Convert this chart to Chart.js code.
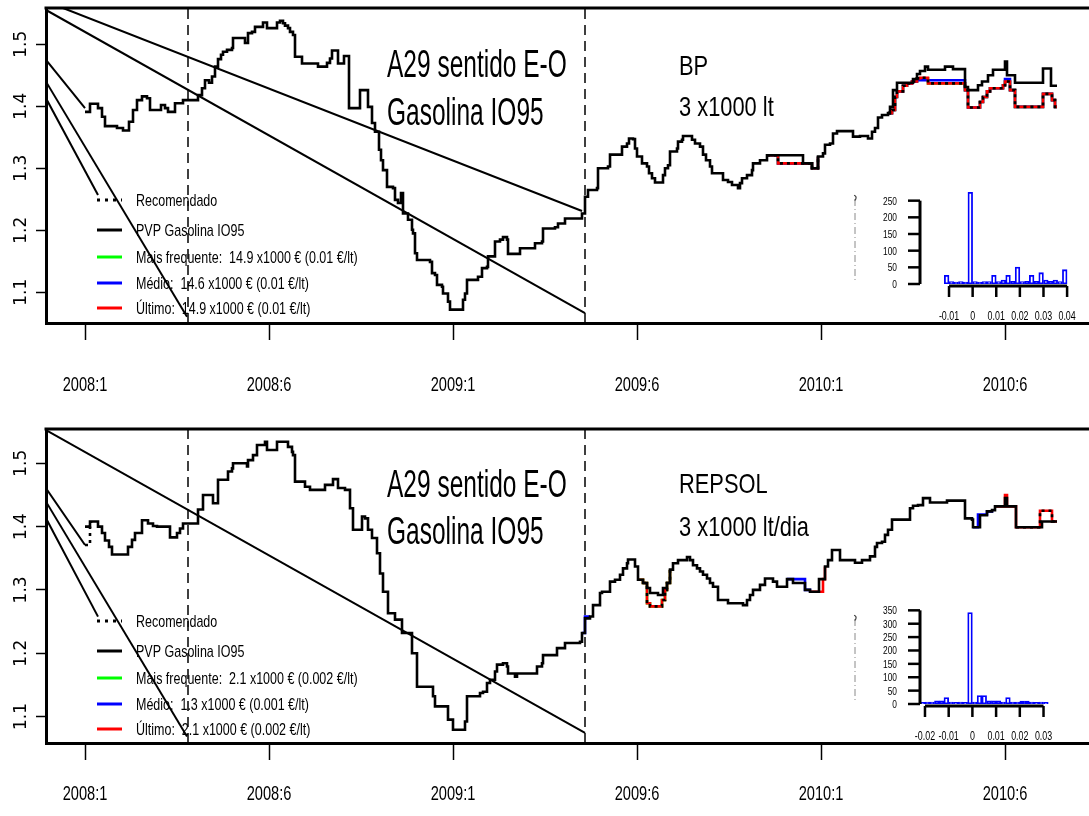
<!DOCTYPE html>
<html>
<head>
<meta charset="utf-8">
<script src="https://cdn.jsdelivr.net/npm/chart.js@4.4.1/dist/chart.umd.min.js"></script>
<style>
  html, body { margin: 0; padding: 0; background: #fff; overflow: hidden; }
  #wrap { position: relative; width: 1089px; height: 816px; }
  canvas { position: absolute; display: block; }
</style>
</head>
<body>
<div id="wrap">
  <canvas id="panelBP" width="1089" height="408" style="left:0;top:0"></canvas>
  <canvas id="panelRepsol" width="1089" height="408" style="left:0;top:408px"></canvas>
  <canvas id="histBP" width="230" height="150" style="left:850px;top:180px"></canvas>
  <canvas id="histRepsol" width="230" height="150" style="left:850px;top:600px"></canvas>
</div>
<script>
// ---- time axis: days counted from the first observation (2008:1) ----
const xTickDays   = [0, 184, 368, 552, 736, 920];
const xTickLabels = ['2008:1', '2008:6', '2009:1', '2009:6', '2010:1', '2010:6'];
const yTicks      = [1.1, 1.2, 1.3, 1.4, 1.5];
const dividerDays = [103, 500];

const titleLines     = ['A29 sentido E-O', 'Gasolina IO95'];
const stationBP      = ['BP', '3 x1000 lt'];
const stationRepsol  = ['REPSOL', '3 x1000 lt/dia'];
const legendBP = ['Recomendado', 'PVP Gasolina IO95',
  'Mais frequente:  14.9 x1000 € (0.01 €/lt)',
  'Médio:  14.6 x1000 € (0.01 €/lt)',
  'Último:  14.9 x1000 € (0.01 €/lt)'];
const legendRepsol = ['Recomendado', 'PVP Gasolina IO95',
  'Mais frequente:  2.1 x1000 € (0.002 €/lt)',
  'Médio:  1.3 x1000 € (0.001 €/lt)',
  'Último:  2.1 x1000 € (0.002 €/lt)'];

// ---- BP: pump price (€/lt), [day, price] at each price change ----
const pvpBP = [[0,1.391],[5,1.404],[13,1.397],[17,1.383],[20,1.368],[32,1.365],[38,1.361],[44,1.375],[48,1.394],[52,1.410],
  [57,1.416],[62,1.413],[65,1.394],[76,1.402],[80,1.397],[83,1.391],[90,1.405],[98,1.410],[113,1.418],[117,1.429],
  [120,1.442],[124,1.438],[127,1.448],[130,1.464],[133,1.476],[136,1.483],[138,1.488],[142,1.491],[147,1.494],[148,1.510],
  [160,1.502],[163,1.518],[167,1.520],[170,1.528],[178,1.535],[182,1.526],[192,1.535],[195,1.538],[198,1.534],[200,1.530],
  [203,1.526],[205,1.520],[208,1.515],[210,1.480],[217,1.469],[233,1.464],[242,1.470],[245,1.477],[247,1.490],[253,1.469],
  [259,1.481],[264,1.397],[275,1.426],[283,1.399],[287,1.373],[290,1.359],[294,1.330],[296,1.313],[298,1.297],[302,1.270],
  [308,1.268],[310,1.249],[313,1.244],[316,1.260],[318,1.227],[323,1.217],[327,1.201],[328,1.195],[330,1.163],[332,1.152],
  [345,1.149],[347,1.131],[350,1.128],[352,1.112],[357,1.109],[358,1.098],[363,1.085],[365,1.072],[378,1.088],[380,1.098],
  [382,1.120],[393,1.125],[397,1.139],[402,1.141],[403,1.158],[410,1.182],[415,1.185],[418,1.189],[422,1.185],[423,1.162],
  [435,1.171],[450,1.179],[457,1.182],[458,1.203],[470,1.205],[473,1.211],[480,1.219],[497,1.227],[500,1.254],[503,1.265],
  [512,1.268],[513,1.300],[523,1.303],[525,1.322],[537,1.335],[542,1.340],[544,1.348],[548,1.347],[550,1.332],[552,1.319],
  [557,1.308],[562,1.303],[564,1.292],[567,1.284],[570,1.277],[578,1.289],[580,1.300],[583,1.305],[585,1.327],[592,1.332],
  [593,1.343],[597,1.346],[598,1.352],[607,1.346],[610,1.340],[615,1.335],[618,1.322],[621,1.313],[625,1.303],[627,1.292],
  [638,1.281],[643,1.278],[647,1.273],[653,1.268],[655,1.276],[657,1.284],[662,1.289],[667,1.297],[668,1.308],[675,1.313],
  [682,1.321],[718,1.308],[727,1.300],[733,1.319],[738,1.324],[740,1.338],[745,1.340],[748,1.356],[752,1.360],[768,1.351],
  [775,1.352],[783,1.348],[787,1.359],[790,1.365],[793,1.382],[797,1.386],[803,1.389],[805,1.399],[808,1.426],[812,1.438],
  [828,1.444],[832,1.452],[835,1.457],[840,1.464],[843,1.459],[860,1.464],[868,1.460],[880,1.431],[883,1.426],[893,1.434],
  [897,1.440],[903,1.450],[908,1.459],[920,1.472],[922,1.450],[930,1.438],[958,1.461],[966,1.433],[972,1.433]];

// recommended price where it departs from the pump price (Último follows it)
const recBP = [[682,1.321],[693,1.308],[727,1.300],[733,1.319],[760,null],
  [803,1.389],[807,1.394],[810,1.415],[812,1.424],[818,1.433],[822,1.437],[827,1.440],[832,1.445],[835,1.446],[843,1.437],
  [880,1.426],[883,1.398],[895,1.407],[898,1.415],[902,1.424],[905,1.429],[918,1.434],[920,1.440],[925,1.426],[930,1.399],
  [958,1.420],[967,1.410],[970,1.399],[972,1.399]];
const lastBP = [[682,1.321],[693,1.308],[727,1.300],[733,1.319],[760,null],
  [803,1.389],[807,1.394],[810,1.415],[812,1.424],[818,1.433],[822,1.437],[827,1.440],[832,1.445],[835,1.446],[843,1.437],
  [880,1.426],[883,1.398],[895,1.407],[898,1.415],[902,1.424],[905,1.429],[918,1.434],[920,1.440],[925,1.426],[930,1.399],
  [958,1.420],[967,1.410],[970,1.399],[972,1.399]];
const meanBP = [[682,1.321],[693,1.308],[727,1.300],[733,1.319],[760,null],
  [803,1.389],[807,1.394],[810,1.415],[812,1.424],[818,1.433],[822,1.437],[827,1.440],[832,1.442],
  [880,1.426],[883,1.398],[895,1.407],[898,1.415],[902,1.424],[905,1.429],[918,1.434],[920,1.444],[925,1.426],[930,1.399],
  [958,1.420],[967,1.410],[970,1.399],[972,1.399]];
const freqBP = [[682,1.321],[693,1.308],[727,1.300],[733,1.319],[760,null],
  [803,1.389],[807,1.394],[810,1.415],[812,1.424],[818,1.433],[822,1.437],[827,1.440],[832,1.445],[843,1.437],
  [880,1.426],[883,1.398],[895,1.407],[898,1.415],[902,1.424],[905,1.429],[918,1.434],[920,1.440],[925,1.426],[930,1.399],
  [958,1.420],[967,1.410],[970,1.399],[972,1.399]];

// straight guide segments, [day, price] end points
const guidesBP = [
  [[-22,1.5585],[497,1.2311]],
  [[-39,1.5553],[500,1.0666]],
  [[-39,1.4747],[0,1.397]],
  [[-39,1.4397],[102,1.0606]],
  [[-39,1.4129],[13,1.2569]]];

// ---- REPSOL ----
const pvpRepsol = [[0,1.400],[5,1.408],[13,1.400],[17,1.390],[20,1.378],[24,1.368],[27,1.356],[43,1.368],[47,1.379],[50,1.390],
  [57,1.410],[63,1.405],[68,1.401],[72,1.400],[85,1.383],[92,1.390],[95,1.397],[98,1.405],[113,1.427],[118,1.450],
  [128,1.437],[133,1.474],[143,1.487],[147,1.492],[148,1.500],[162,1.495],[163,1.505],[168,1.513],[172,1.529],[180,1.534],
  [182,1.521],[192,1.534],[203,1.526],[207,1.518],[208,1.513],[210,1.471],[220,1.463],[225,1.458],[240,1.466],[248,1.475],
  [253,1.461],[260,1.458],[265,1.429],[268,1.395],[277,1.416],[280,1.413],[283,1.395],[287,1.382],[292,1.358],[295,1.326],
  [298,1.297],[303,1.263],[310,1.253],[317,1.232],[327,1.200],[332,1.147],[348,1.132],[350,1.116],[363,1.095],[368,1.079],
  [380,1.092],[382,1.132],[395,1.137],[398,1.139],[402,1.153],[405,1.158],[410,1.171],[412,1.182],[418,1.184],[422,1.179],
  [423,1.168],[430,1.163],[432,1.168],[452,1.179],[457,1.184],[458,1.197],[472,1.208],[480,1.216],[495,1.218],[497,1.232],
  [500,1.255],[505,1.258],[508,1.276],[515,1.295],[517,1.297],[525,1.313],[530,1.316],[535,1.324],[538,1.334],[542,1.342],
  [543,1.348],[550,1.337],[553,1.316],[558,1.311],[562,1.303],[565,1.295],[573,1.292],[578,1.303],[582,1.311],[585,1.332],
  [588,1.342],[593,1.347],[602,1.352],[605,1.347],[608,1.339],[612,1.334],[615,1.329],[618,1.324],[622,1.318],[625,1.311],
  [628,1.305],[633,1.284],[643,1.279],[658,1.276],[662,1.284],[665,1.292],[668,1.300],[675,1.308],[680,1.318],[688,1.313],
  [692,1.305],[702,1.317],[708,1.311],[720,1.300],[725,1.297],[734,1.317],[740,1.337],[743,1.347],[747,1.363],[755,1.347],
  [770,1.343],[777,1.347],[785,1.353],[790,1.368],[792,1.374],[797,1.376],[800,1.387],[803,1.395],[807,1.411],[825,1.429],
  [828,1.433],[833,1.434],[838,1.445],[845,1.438],[862,1.441],[880,1.413],[887,1.411],[888,1.399],[895,1.418],[902,1.424],
  [907,1.426],[910,1.432],[920,1.445],[922,1.432],[931,1.399],[957,1.408],[972,1.408]];

const recRepsol = [[0,1.371],[5,1.400],[6,1.408],[300,null],
  [558,1.311],[562,1.279],[565,1.274],[577,1.284],[580,1.300],[582,1.311],[585,1.332],[800,null],
  [931,1.399],[955,1.425],[967,1.408],[972,1.408]];
const lastRepsol = [[553,1.316],[558,1.311],[562,1.279],[565,1.274],[577,1.284],[580,1.300],[582,1.311],[585,1.332],[650,null],
  [725,1.297],[738,1.317],[740,1.337],[800,null],
  [910,1.432],[920,1.450],[922,1.432],[931,1.399],[955,1.425],[967,1.408],[972,1.408]];
const meanRepsol = [[497,1.232],[500,1.258],[505,1.258],[600,null],
  [702,1.317],[720,1.300],[725,1.297],[800,null],
  [888,1.399],[893,1.419],[902,1.424],[907,1.426]];
const freqRepsol = [[553,1.316],[558,1.311],[562,1.279],[565,1.274],[577,1.284],[580,1.300],[582,1.311],[585,1.332]];

const guidesRepsol = [
  [[-39,1.5526],[500,1.0741]],
  [[-39,1.4605],[0,1.371]],
  [[-39,1.4394],[102,1.0683]],
  [[-39,1.4132],[13,1.2578]]];

// ---- histograms of daily margins (€/lt), lower bin edges and counts ----
const histBinWidth = 0.002;
const histEdgesBP = [-0.012,-0.010,-0.008,-0.006,-0.004,-0.002,0.000,0.002,0.004,0.006,0.008,0.010,0.012,
  0.014,0.016,0.018,0.020,0.022,0.024,0.026,0.028,0.030,0.032,0.034,0.036,0.038];
const histCountsBP = [26,7,6,7,6,275,7,6,7,7,26,7,12,26,8,51,7,8,26,8,34,12,8,12,7,43];
const histXTicksBP = [-0.01, 0, 0.01, 0.02, 0.03, 0.04];
const histYTicksBP = [0, 50, 100, 150, 200, 250];

const histEdgesRepsol = [-0.022,-0.020,-0.018,-0.016,-0.014,-0.012,-0.010,-0.008,-0.006,-0.004,-0.002,0.000,0.002,
  0.004,0.006,0.008,0.010,0.012,0.014,0.016,0.018,0.020,0.022,0.024,0.026,0.028,0.030];
const histCountsRepsol = [6,7,7,12,12,24,7,6,7,6,342,7,32,32,12,12,12,7,24,7,7,11,11,7,6,7,6];
const histXTicksRepsol = [-0.02, -0.01, 0, 0.01, 0.02, 0.03];
const histYTicksRepsol = [0, 50, 100, 150, 200, 250, 300, 350];

// ---------------------------------------------------------------
const SANS = '"Liberation Sans", Arial, Helvetica, sans-serif';

function condensedText(ctx, str, x, y, size, squeeze, align) {
  ctx.save();
  ctx.font = size + 'px ' + SANS;
  ctx.textBaseline = 'alphabetic';
  ctx.textAlign = 'left';
  const w = ctx.measureText(str).width * squeeze;
  const x0 = align === 'center' ? x - w / 2 : (align === 'right' ? x - w : x);
  ctx.translate(x0, y);
  ctx.scale(squeeze, 1);
  ctx.fillStyle = '#000';
  ctx.fillText(str, 0, 0);
  ctx.restore();
}

function stepLine(data, color, width, dash) {
  return { data, borderColor: color, borderWidth: width, borderDash: dash || [],
           stepped: true, pointRadius: 0, fill: false, spanGaps: false };
}

function buildPanel(id, p) {
  const datasets = [
    stepLine(p.pvp, '#000000', 2.6),
    stepLine(p.rec, '#000000', 2.6, [3, 4]),
    stepLine(p.last, '#ff0000', 2.6),
    stepLine(p.mean, '#0000ff', 2.6),
    stepLine(p.freq, '#00ff00', 2.6)
  ];
  p.guides.forEach(g => datasets.push({ data: g, borderColor: '#000', borderWidth: 2, pointRadius: 0, fill: false }));
  dividerDays.forEach(d => datasets.push({ data: [[d, p.yMin], [d, p.yMax]], borderColor: '#000',
    borderWidth: 1.5, borderDash: [10, 6], pointRadius: 0, fill: false }));

  const decor = {
    id: 'decor' + id,
    afterDatasetsDraw(chart) {
      const ctx = chart.ctx, a = chart.chartArea;
      // top frame line
      ctx.save();
      ctx.strokeStyle = '#000'; ctx.lineWidth = 3;
      ctx.beginPath(); ctx.moveTo(a.left - 1.5, a.top); ctx.lineTo(a.right, a.top); ctx.stroke();
      ctx.restore();
      // headline texts
      titleLines.forEach((t, i) => condensedText(ctx, t, 387, a.top + p.titleY[i], 38, 0.645, 'left'));
      p.station.forEach((t, i) => condensedText(ctx, t, 679, a.top + p.stationY[i], 28, 0.78, 'left'));
      // legend
      const rows = [192, 222, 249, 275, 300];
      const samples = [['#000', [3, 5]], ['#000', []], ['#00ff00', []], ['#0000ff', []], ['#ff0000', []]];
      rows.forEach((r, i) => {
        const y = a.top + r;
        ctx.save();
        ctx.strokeStyle = samples[i][0]; ctx.lineWidth = 3; ctx.setLineDash(samples[i][1]);
        ctx.beginPath(); ctx.moveTo(97, y); ctx.lineTo(122, y); ctx.stroke();
        ctx.restore();
        condensedText(ctx, p.legend[i], 136, y + 6, 17, 0.735, 'left');
      });
    },
    afterDraw(chart) {
      const ctx = chart.ctx, a = chart.chartArea;
      const xs = chart.scales.x, ys = chart.scales.y;
      xTickDays.forEach((d, i) => condensedText(ctx, xTickLabels[i], xs.getPixelForValue(d), a.bottom + p.xLabelGap + 7, 20, 0.73, 'center'));
      ctx.save();
      ctx.font = '17px "DejaVu Sans", sans-serif';
      ctx.fillStyle = '#000'; ctx.textAlign = 'center'; ctx.textBaseline = 'middle';
      yTicks.forEach(v => {
        ctx.save();
        ctx.translate(22, ys.getPixelForValue(v));
        ctx.rotate(-Math.PI / 2);
        ctx.fillText(v.toFixed(1), 0, 0);
        ctx.restore();
      });
      ctx.restore();
    }
  };

  return new Chart(document.getElementById(id), {
    type: 'line',
    data: { datasets },
    options: {
      responsive: false, animation: false, devicePixelRatio: 1, events: [],
      layout: { padding: { top: p.top, left: 0, right: 0, bottom: 0 } },
      plugins: { legend: { display: false }, tooltip: { enabled: false } },
      elements: { line: { tension: 0, borderCapStyle: 'butt' } },
      scales: {
        x: {
          type: 'linear', min: -39, max: 1004,
          afterBuildTicks: s => { s.ticks = xTickDays.map(v => ({ value: v })); },
          afterFit: s => { s.height = p.xAxisHeight; },
          ticks: { display: false },
          grid: { drawOnChartArea: false, drawTicks: true, tickLength: 17, tickWidth: 1.5, tickColor: '#000' },
          border: { display: true, color: '#000', width: 3 }
        },
        y: {
          type: 'linear', min: p.yMin, max: p.yMax,
          afterBuildTicks: s => { s.ticks = yTicks.map(v => ({ value: v })); },
          afterFit: s => { s.width = 46; },
          ticks: { display: false },
          grid: { drawOnChartArea: false, drawTicks: true, tickLength: 10, tickWidth: 1.5, tickColor: '#000' },
          border: { display: true, color: '#000', width: 3 }
        }
      }
    },
    plugins: [decor]
  });
}

function buildHist(id, h) {
  const data = h.edges.map((e, i) => ({ x: e + histBinWidth / 2, y: h.counts[i] }));
  const axes = {
    id: 'axes' + id,
    afterDraw(chart) {
      const ctx = chart.ctx, a = chart.chartArea;
      const xs = chart.scales.x, ys = chart.scales.y;
      ctx.save();
      ctx.strokeStyle = '#000';
      // y axis
      ctx.lineWidth = 3;
      ctx.beginPath();
      ctx.moveTo(a.left, ys.getPixelForValue(0));
      ctx.lineTo(a.left, ys.getPixelForValue(h.yTicks[h.yTicks.length - 1]));
      ctx.stroke();
      ctx.lineWidth = 2.5;
      h.yTicks.forEach(v => {
        const y = ys.getPixelForValue(v);
        ctx.beginPath(); ctx.moveTo(a.left - 12, y); ctx.lineTo(a.left, y); ctx.stroke();
        condensedText(ctx, String(v), a.left - 23, y + 4, 11, 0.76, 'right');
      });
      // x axis
      const yAx = a.bottom + 2;
      ctx.lineWidth = 3;
      ctx.beginPath();
      ctx.moveTo(xs.getPixelForValue(h.xTicks[0]), yAx);
      ctx.lineTo(xs.getPixelForValue(h.xTicks[h.xTicks.length - 1]), yAx);
      ctx.stroke();
      ctx.lineWidth = 2.5;
      h.xTicks.forEach(v => {
        const x = xs.getPixelForValue(v);
        ctx.beginPath(); ctx.moveTo(x, yAx); ctx.lineTo(x, yAx + 11); ctx.stroke();
        const lab = v === 0 ? '0' : String(v);
        condensedText(ctx, lab, x, a.bottom + 36, 12, 0.74, 'center');
      });
      // faint clipped side label
      ctx.strokeStyle = '#8a8a8a'; ctx.lineWidth = 1; ctx.setLineDash([7, 3, 1, 3]);
      ctx.beginPath(); ctx.moveTo(a.left - 65, a.top + 10); ctx.lineTo(a.left - 65, a.bottom - 1); ctx.stroke();
      ctx.setLineDash([]); ctx.strokeStyle = '#444'; ctx.lineWidth = 1.2;
      ctx.beginPath(); ctx.arc(a.left - 67, a.top + 9, 3, -1.2, 1.0); ctx.stroke();
      ctx.restore();
    }
  };
  return new Chart(document.getElementById(id), {
    type: 'bar',
    data: { datasets: [{ data, borderColor: '#0000ff', backgroundColor: 'rgba(255,255,255,0)',
      borderWidth: 1.2, borderSkipped: false, inflateAmount: 0.3,
      barPercentage: 1.0, categoryPercentage: 1.0 }] },
    options: {
      responsive: false, animation: false, devicePixelRatio: 1, events: [],
      layout: { padding: h.padding },
      plugins: { legend: { display: false }, tooltip: { enabled: false } },
      scales: {
        x: { type: 'linear', min: h.xMin, max: h.xMax, offset: false, display: false },
        y: { type: 'linear', min: 0, max: h.yMax, display: false }
      }
    },
    plugins: [axes]
  });
}

buildPanel('panelBP', {
  pvp: pvpBP, rec: recBP, last: lastBP, mean: meanBP, freq: freqBP, guides: guidesBP,
  yMin: 1.0505, yMax: 1.5585, top: 8, xAxisHeight: 85, xLabelGap: 61,
  station: stationBP, legend: legendBP, titleY: [69, 117], stationY: [67, 108]
});
buildPanel('panelRepsol', {
  pvp: pvpRepsol, rec: recRepsol, last: lastRepsol, mean: meanRepsol, freq: freqRepsol, guides: guidesRepsol,
  yMin: 1.0581, yMax: 1.5542, top: 21, xAxisHeight: 73, xLabelGap: 50,
  station: stationRepsol, legend: legendRepsol, titleY: [68, 115], stationY: [64, 107]
});
buildHist('histBP', {
  edges: histEdgesBP, counts: histCountsBP, xTicks: histXTicksBP, yTicks: histYTicksBP,
  xMin: -0.02229, xMax: 0.0425, yMax: 285, padding: { left: 70, right: 7, top: 9, bottom: 46 }
});
buildHist('histRepsol', {
  edges: histEdgesRepsol, counts: histCountsRepsol, xTicks: histXTicksRepsol, yTicks: histYTicksRepsol,
  xMin: -0.0221, xMax: 0.034, yMax: 355, padding: { left: 70, right: 27, top: 9, bottom: 46 }
});
</script>
</body>
</html>
